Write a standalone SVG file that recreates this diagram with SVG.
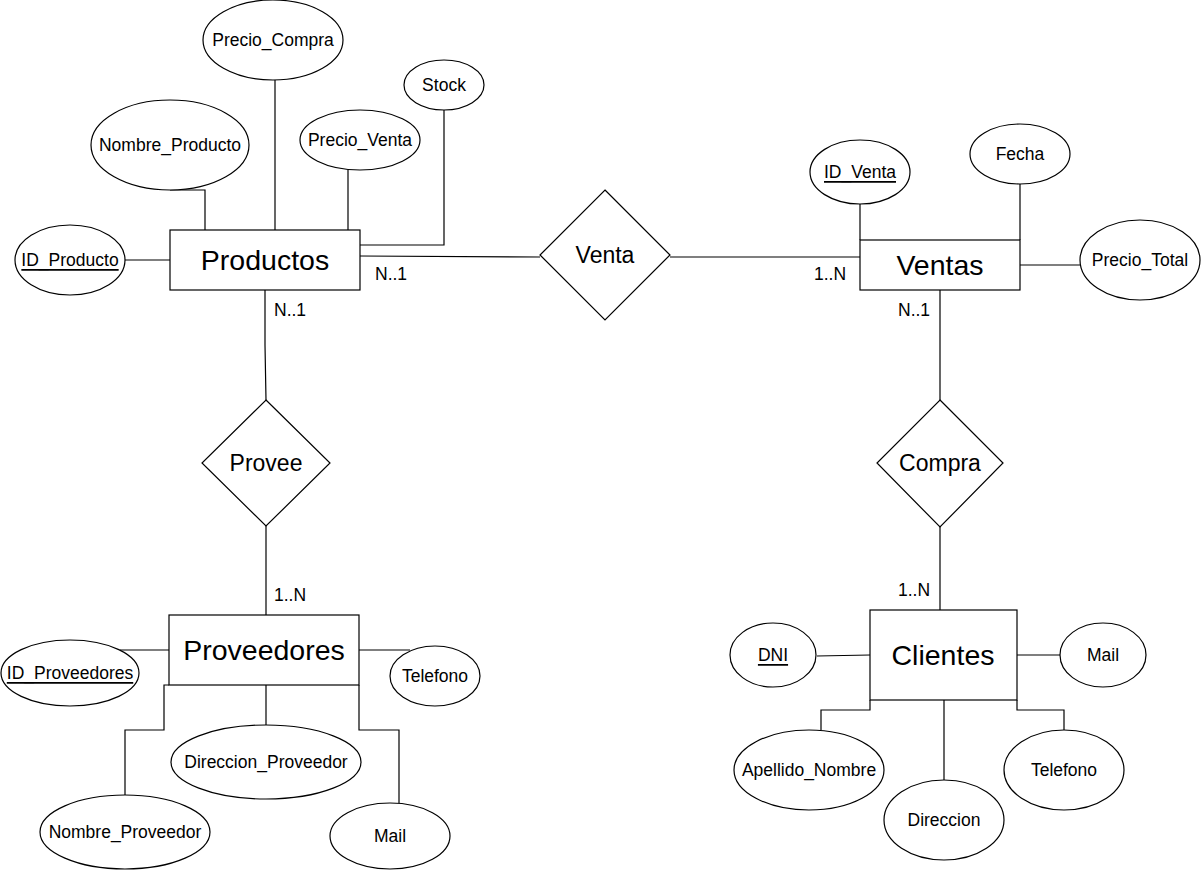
<svg xmlns="http://www.w3.org/2000/svg" width="1201" height="871" viewBox="0 0 1201 871">
<style>
.s{fill:#fff;stroke:#000;stroke-width:1.2}
.c{fill:none;stroke:#000;stroke-width:1.2}
text{font-family:"Liberation Sans",Arial,sans-serif;fill:#000;text-anchor:middle;dominant-baseline:central}
.a{font-size:17.5px}
.e{font-size:28.5px}
.r{font-size:23px}
.l{font-size:17.5px;text-anchor:start}
.u{text-decoration:underline}
</style>
<rect width="1201" height="871" fill="#fff"/>
<g id="connectors">
<polyline class="c" points="170,190 205,190 205,230"/>
<line class="c" x1="275" y1="80" x2="275" y2="230"/>
<line class="c" x1="348" y1="170" x2="348" y2="230"/>
<polyline class="c" points="444,110 444,245 360,245"/>
<line class="c" x1="125" y1="260" x2="170" y2="260"/>
<line class="c" x1="360" y1="256" x2="540" y2="257"/>
<polyline class="c" points="265,290 265,345 266,400"/>
<line class="c" x1="670" y1="257" x2="860" y2="257"/>
<line class="c" x1="860" y1="204" x2="860" y2="240"/>
<line class="c" x1="1020" y1="184" x2="1020" y2="240"/>
<line class="c" x1="1020" y1="265" x2="1080" y2="265"/>
<line class="c" x1="940" y1="290" x2="940" y2="400"/>
<line class="c" x1="940" y1="527" x2="940" y2="610"/>
<line class="c" x1="817" y1="656" x2="870" y2="655"/>
<line class="c" x1="1017" y1="655" x2="1060" y2="655"/>
<polyline class="c" points="870,700 870,710 821,710 821,730"/>
<line class="c" x1="944" y1="700" x2="944" y2="780"/>
<polyline class="c" points="1017,700 1017,710 1064,710 1064,730"/>
<line class="c" x1="266" y1="526" x2="266" y2="615"/>
<line class="c" x1="120" y1="650" x2="169" y2="650"/>
<line class="c" x1="359" y1="650" x2="410" y2="650"/>
<line class="c" x1="266" y1="685" x2="266" y2="725"/>
<polyline class="c" points="169,685 164,685 164,730 125,730 125,795"/>
<polyline class="c" points="359,685 359,730 399,730 399,803"/>
</g>
<g id="labels">
<text class="l" x="375" y="274">N..1</text>
<text class="l" x="274" y="310">N..1</text>
<text class="l" x="814" y="274">1..N</text>
<text class="l" x="898" y="310">N..1</text>
<text class="l" x="898" y="590">1..N</text>
<text class="l" x="274" y="595">1..N</text>
</g>
<g id="Productos"><rect class="s" x="170" y="230" width="190" height="60"/><text class="e" x="265" y="260">Productos</text></g>
<g id="Precio_Compra"><ellipse class="s" cx="273" cy="40" rx="70" ry="40"/><text class="a" x="273" y="40">Precio_Compra</text></g>
<g id="Stock"><ellipse class="s" cx="444" cy="85" rx="40" ry="25"/><text class="a" x="444" y="85">Stock</text></g>
<g id="Nombre_Producto"><ellipse class="s" cx="170" cy="145" rx="79" ry="45"/><text class="a" x="170" y="145">Nombre_Producto</text></g>
<g id="Precio_Venta"><ellipse class="s" cx="360" cy="140" rx="60" ry="30"/><text class="a" x="360" y="140">Precio_Venta</text></g>
<g id="ID_Producto"><ellipse class="s" cx="70" cy="260" rx="55" ry="35"/><text class="a u" x="70" y="260">ID_Producto</text></g>
<g id="Venta"><polygon class="s" points="605,190 670,255 605,320 540,255"/><text class="r" x="605" y="255">Venta</text></g>
<g id="Ventas"><rect class="s" x="860" y="240" width="160" height="50"/><text class="e" x="940" y="265">Ventas</text></g>
<g id="ID_Venta"><ellipse class="s" cx="860" cy="172" rx="50" ry="32"/><text class="a u" x="860" y="172">ID_Venta</text></g>
<g id="Fecha"><ellipse class="s" cx="1020" cy="154" rx="50" ry="30"/><text class="a" x="1020" y="154">Fecha</text></g>
<g id="Precio_Total"><ellipse class="s" cx="1140" cy="260" rx="60" ry="40"/><text class="a" x="1140" y="260">Precio_Total</text></g>
<g id="Compra"><polygon class="s" points="940,400 1003,463 940,527 877,463"/><text class="r" x="940" y="463">Compra</text></g>
<g id="Clientes"><rect class="s" x="870" y="610" width="147" height="90"/><text class="e" x="943" y="655">Clientes</text></g>
<g id="DNI"><ellipse class="s" cx="773" cy="655" rx="43" ry="32"/><text class="a u" x="773" y="655">DNI</text></g>
<g id="Mail_Cliente"><ellipse class="s" cx="1103" cy="655" rx="43" ry="32"/><text class="a" x="1103" y="655">Mail</text></g>
<g id="Apellido_Nombre"><ellipse class="s" cx="809" cy="770" rx="75" ry="40"/><text class="a" x="809" y="770">Apellido_Nombre</text></g>
<g id="Direccion"><ellipse class="s" cx="944" cy="820" rx="60" ry="40"/><text class="a" x="944" y="820">Direccion</text></g>
<g id="Telefono_Cliente"><ellipse class="s" cx="1064" cy="770" rx="60" ry="40"/><text class="a" x="1064" y="770">Telefono</text></g>
<g id="Provee"><polygon class="s" points="266,400 330,463 266,526 202,463"/><text class="r" x="266" y="463">Provee</text></g>
<g id="Proveedores"><rect class="s" x="169" y="615" width="190" height="70"/><text class="e" x="264" y="650">Proveedores</text></g>
<g id="ID_Proveedores"><ellipse class="s" cx="70" cy="673" rx="69" ry="33"/><text class="a u" x="70" y="673">ID_Proveedores</text></g>
<g id="Telefono_Proveedor"><ellipse class="s" cx="435" cy="676" rx="45" ry="30"/><text class="a" x="435" y="676">Telefono</text></g>
<g id="Direccion_Proveedor"><ellipse class="s" cx="266" cy="762" rx="95" ry="37"/><text class="a" x="266" y="762">Direccion_Proveedor</text></g>
<g id="Nombre_Proveedor"><ellipse class="s" cx="125" cy="832" rx="85" ry="37"/><text class="a" x="125" y="832">Nombre_Proveedor</text></g>
<g id="Mail_Proveedor"><ellipse class="s" cx="390" cy="836" rx="60" ry="33"/><text class="a" x="390" y="836">Mail</text></g>
</svg>
